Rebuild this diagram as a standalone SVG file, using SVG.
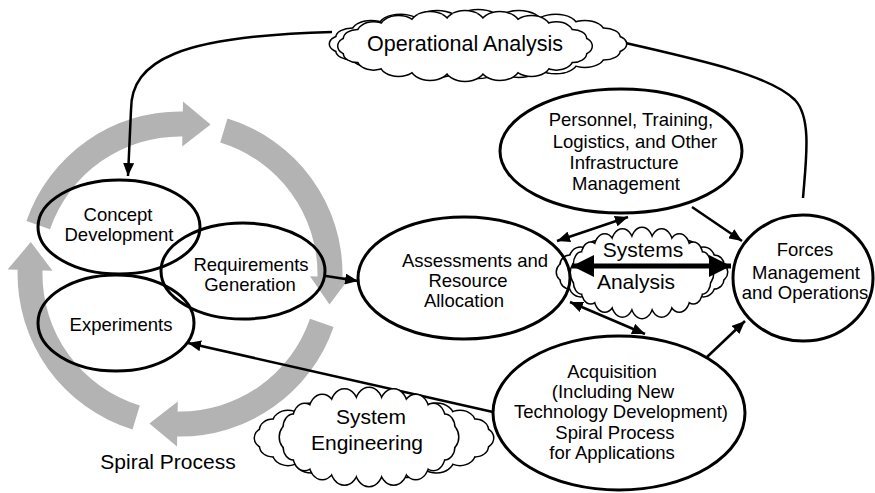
<svg xmlns="http://www.w3.org/2000/svg" xmlns:xlink="http://www.w3.org/1999/xlink" width="875" height="493" viewBox="0 0 875 493">
<style>
text{font-family:"Liberation Sans",Arial,sans-serif;fill:#000;text-anchor:middle}
.lbl{font-size:18.5px}
.big{font-size:21px}
.node{fill:none;stroke:#000;stroke-width:3}
.spiral{fill:#b3b3b3;stroke:none}
.con{fill:none;stroke:#000;stroke-width:2.5}
.thick{fill:none;stroke:#000;stroke-width:5}
.cs{fill:#fff;stroke:#000;stroke-width:3}
.cf{fill:#fff;stroke:none}
</style>
<defs>
<marker id="ah" markerUnits="userSpaceOnUse" markerWidth="13" markerHeight="11" refX="13" refY="5.5" orient="auto-start-reverse"><path d="M0,0 L13,5.5 L0,11 z" fill="#000"/></marker>
<marker id="ahb" markerUnits="userSpaceOnUse" markerWidth="22" markerHeight="22" refX="22" refY="11" orient="auto-start-reverse"><path d="M0,0 L22,11 L0,22 z" fill="#000"/></marker>
<g id="cloud">
<ellipse cx="0" cy="0" rx="100" ry="30" vector-effect="non-scaling-stroke"/>
<circle cx="100" cy="0" r="12" vector-effect="non-scaling-stroke"/>
<circle cx="95.1" cy="9.3" r="12" vector-effect="non-scaling-stroke"/>
<circle cx="80.9" cy="17.6" r="14" vector-effect="non-scaling-stroke"/>
<circle cx="58.8" cy="24.3" r="16" vector-effect="non-scaling-stroke"/>
<circle cx="30.9" cy="28.5" r="17" vector-effect="non-scaling-stroke"/>
<circle cx="0" cy="30" r="17" vector-effect="non-scaling-stroke"/>
<circle cx="-30.9" cy="28.5" r="17" vector-effect="non-scaling-stroke"/>
<circle cx="-58.8" cy="24.3" r="16" vector-effect="non-scaling-stroke"/>
<circle cx="-80.9" cy="17.6" r="14" vector-effect="non-scaling-stroke"/>
<circle cx="-95.1" cy="9.3" r="12" vector-effect="non-scaling-stroke"/>
<circle cx="-100" cy="0" r="12" vector-effect="non-scaling-stroke"/>
<circle cx="-95.1" cy="-9.3" r="12" vector-effect="non-scaling-stroke"/>
<circle cx="-80.9" cy="-17.6" r="14" vector-effect="non-scaling-stroke"/>
<circle cx="-58.8" cy="-24.3" r="16" vector-effect="non-scaling-stroke"/>
<circle cx="-30.9" cy="-28.5" r="17" vector-effect="non-scaling-stroke"/>
<circle cx="0" cy="-30" r="17" vector-effect="non-scaling-stroke"/>
<circle cx="30.9" cy="-28.5" r="17" vector-effect="non-scaling-stroke"/>
<circle cx="58.8" cy="-24.3" r="16" vector-effect="non-scaling-stroke"/>
<circle cx="80.9" cy="-17.6" r="14" vector-effect="non-scaling-stroke"/>
<circle cx="95.1" cy="-9.3" r="12" vector-effect="non-scaling-stroke"/>
</g>
</defs>
<rect width="875" height="493" fill="#fff"/>

<g id="spiral-process">
<path class="spiral" d="M26.4,221.1 A162.5,162.5 0 0 1 182.8,111.5 L183.0,101.5 L210.6,124.5 L182.2,146.5 L182.4,136.5 A137.5,137.5 0 0 0 50.0,229.2 Z"/>
<path class="spiral" d="M227.5,118.6 A162.5,162.5 0 0 1 342.5,276.8 L350.0,277.0 L329.5,304.6 L310.0,276.3 L317.5,276.4 A137.5,137.5 0 0 0 220.2,142.5 Z"/>
<path class="spiral" d="M333.6,326.9 A162.5,162.5 0 0 1 177.2,436.5 L177.0,446.5 L149.4,423.5 L177.8,401.5 L177.6,411.5 A137.5,137.5 0 0 0 310.0,318.8 Z"/>
<path class="spiral" d="M132.5,429.4 A162.5,162.5 0 0 1 17.6,269.7 L7.6,269.5 L30.8,242.1 L52.5,270.7 L42.5,270.4 A137.5,137.5 0 0 0 139.8,405.5 Z"/>
<text class="big" x="168" y="469">Spiral Process</text>
</g>

<g id="systems-analysis">
<use xlink:href="#cloud" class="cs" transform="translate(642,272) scale(0.759,0.766)"/>
<use xlink:href="#cloud" class="cf" transform="translate(642,272) scale(0.759,0.766)"/>
<use xlink:href="#cloud" class="cs" transform="translate(642,273) scale(0.634,0.957)"/>
<use xlink:href="#cloud" class="cf" transform="translate(642,273) scale(0.634,0.957)"/>
<text class="big" x="643" y="257">Systems</text>
<text class="big" x="636" y="289">Analysis</text>
</g>

<g id="connectors">
<path class="con" d="M332,32 C180,36 131,60 131,110 L128,176" marker-end="url(#ah)"/>
<path class="con" d="M612,40 C700,60 770,75 795,100 C812,118 806,160 803,198"/>
<path class="con" d="M326,276 L358,281" marker-end="url(#ah)"/>
<path class="con" d="M628,217 L557,241" marker-start="url(#ah)" marker-end="url(#ah)"/>
<path class="con" d="M692,207 L742,241" marker-end="url(#ah)"/>
<path class="con" d="M570,302 L645,334" marker-start="url(#ah)" marker-end="url(#ah)"/>
<path class="con" d="M707,357 L745,321" marker-end="url(#ah)"/>
<path class="con" d="M493,412 L188,343" marker-end="url(#ah)"/>
<path class="thick" d="M572,266 L731,266" marker-start="url(#ahb)" marker-end="url(#ahb)"/>
</g>

<g id="system-engineering">
<use xlink:href="#cloud" class="cs" transform="translate(374,438) scale(1.0625,0.851)"/>
<use xlink:href="#cloud" class="cf" transform="translate(374,438) scale(1.0625,0.851)"/>
<use xlink:href="#cloud" class="cs" transform="translate(369,437) scale(0.795,1.043)"/>
<use xlink:href="#cloud" class="cf" transform="translate(369,437) scale(0.795,1.043)"/>
<text class="big" x="371" y="424">System</text>
<text class="big" x="367" y="450">Engineering</text>
</g>

<g id="operational-analysis">
<use xlink:href="#cloud" class="cs" transform="translate(478,44) scale(1.321,0.72)"/>
<use xlink:href="#cloud" class="cf" transform="translate(478,44) scale(1.321,0.72)"/>
<use xlink:href="#cloud" class="cs" transform="translate(465,46) scale(1.13,0.74)"/>
<use xlink:href="#cloud" class="cf" transform="translate(465,46) scale(1.13,0.74)"/>
<text x="465" y="51" style="font-size:21.5px">Operational Analysis</text>
</g>

<g id="concept-development">
<ellipse class="node" cx="119" cy="227" rx="81" ry="47"/>
<text class="lbl" x="118" y="221">Concept</text>
<text class="lbl" x="119" y="241">Development</text>
</g>

<g id="requirements-generation">
<ellipse class="node" cx="243" cy="271" rx="82" ry="48"/>
<text class="lbl" x="251" y="271">Requirements</text>
<text class="lbl" x="250" y="291">Generation</text>
</g>

<g id="experiments">
<ellipse class="node" cx="116" cy="323" rx="78" ry="48"/>
<text class="lbl" x="121" y="331">Experiments</text>
</g>

<g id="assessments">
<ellipse class="node" cx="464" cy="278" rx="106" ry="61"/>
<text class="lbl" x="475" y="267">Assessments and</text>
<text class="lbl" x="468" y="287">Resource</text>
<text class="lbl" x="464" y="307">Allocation</text>
</g>

<g id="personnel">
<ellipse class="node" cx="621" cy="151" rx="121" ry="62"/>
<text class="lbl" x="631" y="126">Personnel, Training,</text>
<text class="lbl" x="635" y="148">Logistics, and Other</text>
<text class="lbl" x="624" y="169">Infrastructure</text>
<text class="lbl" x="626" y="190">Management</text>
</g>

<g id="forces">
<ellipse class="node" cx="803" cy="278" rx="70" ry="63"/>
<text class="lbl" x="805" y="256">Forces</text>
<text class="lbl" x="806" y="279">Management</text>
<text class="lbl" x="805" y="299">and Operations</text>
</g>

<g id="acquisition">
<ellipse class="node" cx="619" cy="413" rx="126" ry="77"/>
<text class="lbl" x="612" y="378">Acquisition</text>
<text class="lbl" x="613" y="398">(Including New</text>
<text class="lbl" x="621" y="418">Technology Development)</text>
<text class="lbl" x="615" y="439">Spiral Process</text>
<text class="lbl" x="612" y="459">for Applications</text>
</g>
</svg>
